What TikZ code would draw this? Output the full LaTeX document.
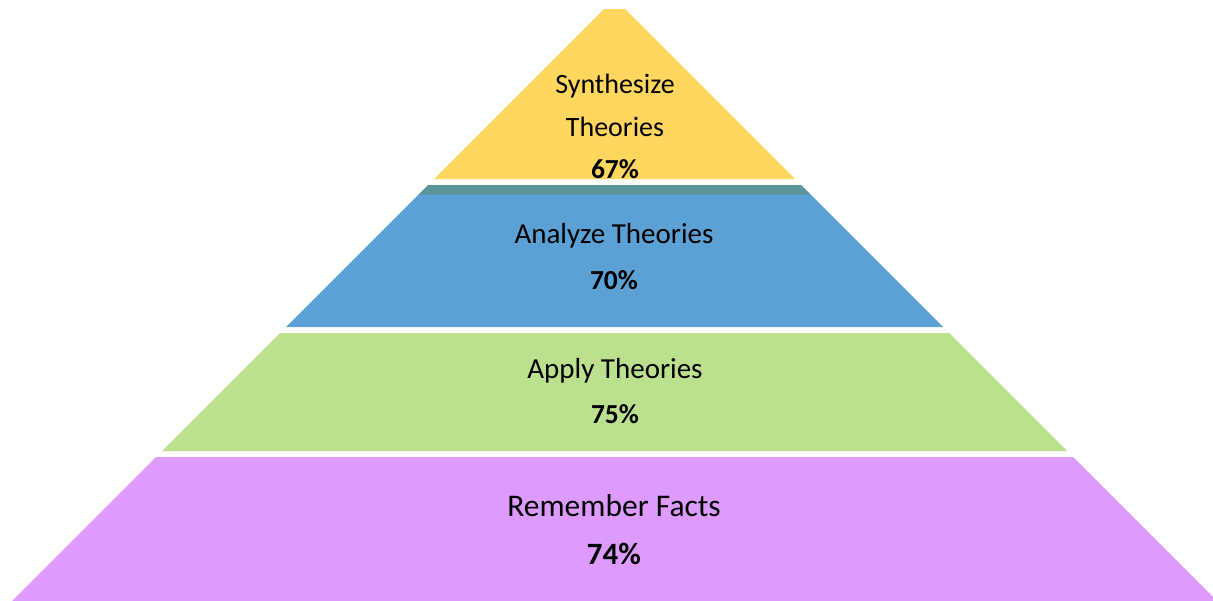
\documentclass[tikz,border=0pt]{standalone}
\usepackage{fontspec}
\setmainfont{Carlito}
\definecolor{cyel}{RGB}{255,215,95}
\definecolor{cteal}{RGB}{90,149,153}
\definecolor{cblue}{RGB}{91,161,213}
\definecolor{cgreen}{RGB}{187,224,142}
\definecolor{cpurp}{RGB}{221,156,253}
\begin{document}
\begin{tikzpicture}[x=1pt,y=-1pt,
  lbl/.style={font=\fontsize{29}{34}\selectfont, text=black, inner sep=0pt, anchor=center},
  pct/.style={font=\fontsize{27.5}{32}\selectfont\bfseries, text=black, inner sep=0pt, anchor=center}]
\useasboundingbox (0,0) rectangle (1213,600);
\clip (0,0) rectangle (1213,600);
\def\cx{614.5}
\def\yo{-1.5}
% layer helper: top y, bottom y
\newcommand{\layer}[3]{\fill[#3] ({\cx-(#1-\yo)},#1) -- ({\cx+(#1-\yo)},#1) -- ({\cx+(#2-\yo)},#2) -- ({\cx-(#2-\yo)},#2) -- cycle;}
\layer{9}{179}{cyel}
\layer{185}{195}{cteal}
\layer{194.5}{327}{cblue}
\layer{333}{451}{cgreen}
\layer{457}{610}{cpurp}
\node[lbl,font=\fontsize{28}{33}\selectfont] (s1) at (615,86) {Synthesize};
\node[lbl,font=\fontsize{28}{33}\selectfont] (s2) at (615,127) {Theories};
\node[pct] (s3) at (615,169) {67\%};
\node[lbl] (a1) at (614,236) {Analyze Theories};
\node[pct] (a2) at (614,280) {70\%};
\node[lbl] (p1) at (615,371) {Apply Theories};
\node[pct] (p2) at (615,414) {75\%};
\node[lbl,font=\fontsize{31.5}{37}\selectfont] (r1) at (614,506) {Remember Facts};
\node[pct,font=\fontsize{31}{37}\selectfont\bfseries] (r2) at (614,554) {74\%};
\end{tikzpicture}
\end{document}
